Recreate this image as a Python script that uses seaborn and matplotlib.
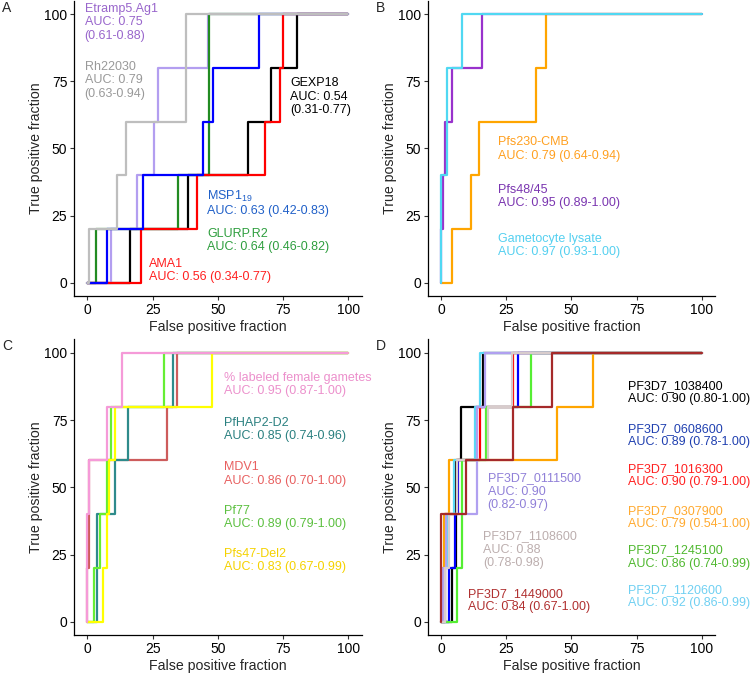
import matplotlib
matplotlib.use('Agg')
import matplotlib.pyplot as plt
import seaborn as sns
import pandas as pd

# ROC curves: each list is the false positive fraction (%) where the
# true positive fraction steps 0->20->40->60->80->100
tpr_steps = [0, 20, 40, 60, 80, 100]

# panel A
a_names = ['GEXP18', 'Etramp5.Ag1', 'GLURP.R2', 'AMA1', 'MSP1_19', 'Rh22030']
a_fpr = [
    [16.3, 38.7, 61.6, 70.5, 80.2],
    [9.1, 19.0, 25.5, 27.1, 46.4],
    [3.3, 34.6, 46.7, 46.7, 46.7],
    [20.6, 41.9, 68.1, 73.6, 74.8],
    [7.4, 21.5, 44.4, 48.3, 65.6],
    [0.8, 11.5, 14.8, 37.8, 37.8],
]
a_colors = ['black', '#b39ef0', '#228b22', '#ff0000', '#0000ff', '#bebebe']

# panel B
b_names = ['Pfs230-CMB', 'Pfs48/45', 'Gametocyte lysate']
b_fpr = [
    [4.1, 11.5, 14.7, 36.4, 40.3],
    [0.0, 0.65, 1.5, 4.1, 15.6],
    [0.0, 0.0, 2.2, 2.2, 8.2],
]
b_colors = ['#ffa500', '#9932cc', '#50d8f2']

# panel C
c_names = ['MDV1', 'PfHAP2-D2', 'Pf77', 'Pfs47-Del2', '% labeled female gametes']
c_fpr = [
    [0.0, 0.65, 0.65, 30.4, 34.5],
    [3.8, 3.8, 10.6, 15.7, 33.0],
    [2.6, 4.9, 7.7, 9.0, 29.4],
    [5.9, 7.4, 8.4, 10.6, 47.8],
    [0.0, 0.0, 0.6, 7.4, 13.2],
]
c_colors = ['#cd5c5c', '#2e8b8b', '#66ee33', '#ffff00', '#f59ad8']

# panel D
d_names = ['PF3D7_1038400', 'PF3D7_0608600', 'PF3D7_1016300', 'PF3D7_0307900',
           'PF3D7_1245100', 'PF3D7_1120600', 'PF3D7_0111500', 'PF3D7_1108600',
           'PF3D7_1449000']
d_fpr = [
    [4.1, 5.8, 5.8, 7.5, 16.0],
    [3.0, 5.5, 6.6, 13.5, 29.7],
    [1.5, 1.5, 6.0, 15.0, 27.7],
    [0.5, 1.0, 3.2, 44.4, 58.4],
    [6.0, 8.2, 8.2, 17.3, 34.4],
    [1.5, 2.8, 5.0, 13.0, 15.0],
    [0.9, 2.0, 13.7, 13.7, 16.9],
    [1.5, 3.0, 6.0, 18.0, 27.1],
    [0.0, 0.0, 9.6, 27.7, 42.5],
]
d_colors = ['black', '#0000ff', '#ff0000', '#ffa500', '#55ee33', '#5bd8f5',
            '#b0a0f0', '#d8cccc', '#a52a2a']

# annotation text: (text, x, y, colour)
a_labels = [
    ('Etramp5.Ag1\nAUC: 0.75\n(0.61-0.88)', -1, 96.9, '#9966cc'),
    ('Rh22030\nAUC: 0.79\n(0.63-0.94)', -1, 75.4, '#999999'),
    ('GEXP18\nAUC: 0.54\n(0.31-0.77)', 77.7, 69.2, 'black'),
    ('MSP1$_{19}$\nAUC: 0.63 (0.42-0.83)', 46.0, 29.8, '#2060c8'),
    ('GLURP.R2\nAUC: 0.64 (0.46-0.82)', 46.0, 15.8, '#2e9e3e'),
    ('AMA1\nAUC: 0.56 (0.34-0.77)', 23.8, 4.6, '#ff2020'),
]
b_labels = [
    ('Pfs230-CMB\nAUC: 0.79 (0.64-0.94)', 22.0, 49.8, '#ffa020'),
    ('Pfs48/45\nAUC: 0.95 (0.89-1.00)', 22.0, 32.2, '#7a35b0'),
    ('Gametocyte lysate\nAUC: 0.97 (0.93-1.00)', 22.0, 13.8, '#55d0f0'),
]
c_labels = [
    ('% labeled female gametes\nAUC: 0.95 (0.87-1.00)', 52.4, 88.2, '#ec90cc'),
    ('PfHAP2-D2\nAUC: 0.85 (0.74-0.96)', 52.4, 71.5, '#2a8080'),
    ('MDV1\nAUC: 0.86 (0.70-1.00)', 52.4, 55.0, '#e86060'),
    ('Pf77\nAUC: 0.89 (0.79-1.00)', 52.4, 38.7, '#5cc040'),
    ('Pfs47-Del2\nAUC: 0.83 (0.67-0.99)', 52.4, 22.8, '#f5d200'),
]
d_labels = [
    ('PF3D7_1038400\nAUC: 0.90 (0.80-1.00)', 71.9, 85.2, 'black'),
    ('PF3D7_0608600\nAUC: 0.89 (0.78-1.00)', 71.9, 69.3, '#2040b0'),
    ('PF3D7_1016300\nAUC: 0.90 (0.79-1.00)', 71.9, 54.3, '#ff2020'),
    ('PF3D7_0307900\nAUC: 0.79 (0.54-1.00)', 71.9, 38.9, '#ffaa30'),
    ('PF3D7_1245100\nAUC: 0.86 (0.74-0.99)', 71.9, 24.1, '#50b830'),
    ('PF3D7_1120600\nAUC: 0.92 (0.86-0.99)', 71.9, 9.5, '#70d0f2'),
    ('PF3D7_0111500\nAUC: 0.90\n(0.82-0.97)', 17.9, 48.4, '#9080d8'),
    ('PF3D7_1108600\nAUC: 0.88\n(0.78-0.98)', 16.2, 26.9, '#bcaeae'),
    ('PF3D7_1449000\nAUC: 0.84 (0.67-1.00)', 10.2, 7.9, '#b03030'),
]

sns.set_style('ticks')
plt.rcParams['font.family'] = ['Liberation Sans', 'DejaVu Sans']
plt.rcParams['mathtext.fontset'] = 'custom'
plt.rcParams['mathtext.rm'] = 'Liberation Sans'

fig = plt.figure(figsize=(7.5, 6.76), dpi=100)
positions = {
    'A': [0.099, 0.562, 0.383, 0.437],
    'B': [0.5707, 0.562, 0.3823, 0.437],
    'C': [0.099, 0.060, 0.383, 0.438],
    'D': [0.5707, 0.060, 0.3823, 0.438],
}
panels = {
    'A': (a_names, a_fpr, a_colors, a_labels),
    'B': (b_names, b_fpr, b_colors, b_labels),
    'C': (c_names, c_fpr, c_colors, c_labels),
    'D': (d_names, d_fpr, d_colors, d_labels),
}


def roc_frame(fpr):
    # step curve from (0,0) to (100,100)
    xs = [0] + list(fpr) + [100]
    ys = tpr_steps + [100]
    return pd.DataFrame({'fpr': xs, 'tpr': ys})


for key, (names, fprs, colors, labels) in panels.items():
    ax = fig.add_axes(positions[key])
    for name, fpr, col in zip(names, fprs, colors):
        df = roc_frame(fpr)
        sns.lineplot(data=df, x='fpr', y='tpr', color=col, linewidth=1.6,
                     drawstyle='steps-post', estimator=None, sort=False,
                     legend=False, ax=ax)
    for txt, x, y, col in labels:
        ax.text(x, y, txt, color=col, fontsize=9, ha='left', va='center',
                linespacing=1.15, clip_on=False)
    ax.set_xlim(-5, 105)
    ax.set_ylim(-5, 105)
    ax.set_xticks([0, 25, 50, 75, 100])
    ax.set_yticks([0, 25, 50, 75, 100])
    ax.tick_params(labelsize=10, length=3, width=0.8, color='#333333',
                   pad=2, labelcolor='black')
    ax.set_xlabel('False positive fraction', fontsize=10.2, labelpad=2)
    ax.set_ylabel('True positive fraction', fontsize=10.2, labelpad=1)
    for s in ['left', 'bottom']:
        ax.spines[s].set_linewidth(0.9)
        ax.spines[s].set_color('black')
    sns.despine(ax=ax)

fig.text(0.003, 0.988, 'A', fontsize=10, va='center')
fig.text(0.501, 0.988, 'B', fontsize=10, va='center')
fig.text(0.003, 0.488, 'C', fontsize=10, va='center')
fig.text(0.501, 0.488, 'D', fontsize=10, va='center')

fig.savefig('out.png', dpi=100)
